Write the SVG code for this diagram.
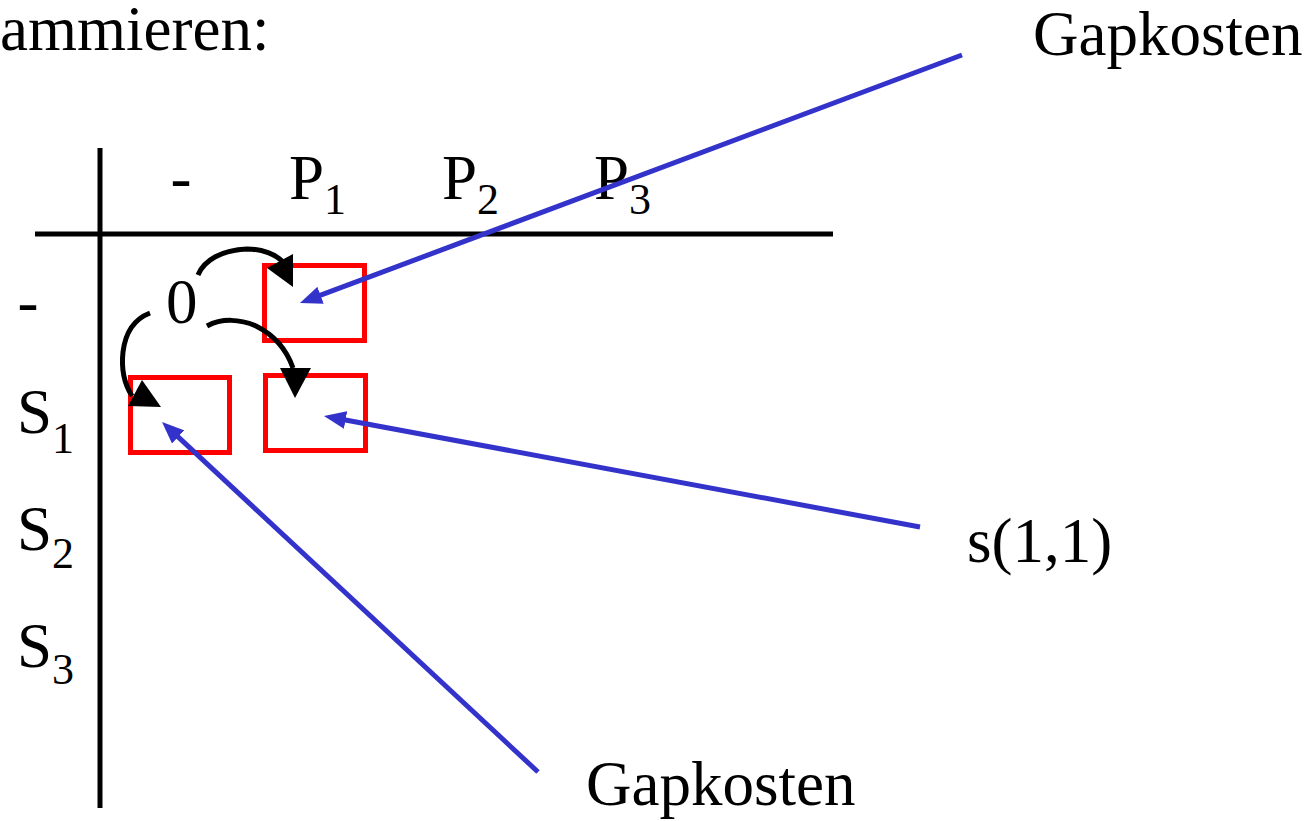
<svg xmlns="http://www.w3.org/2000/svg" width="1315" height="821" viewBox="0 0 1315 821">
<style>
text{font-family:"Liberation Serif","Times New Roman",serif;fill:#000}
.t{font-size:63px}
.sub{font-size:44px}
.axis{stroke:#000;stroke-width:5;fill:none}
.cell{fill:none;stroke:#FF0000;stroke-width:5}
.curve{fill:none;stroke:#000;stroke-width:5}
.head{fill:#000;stroke:none}
.blue{fill:none;stroke:#3333CC;stroke-width:5}
</style>
<defs>
<marker id="bh" markerUnits="userSpaceOnUse" markerWidth="22" markerHeight="18" viewBox="0 0 22 18" refX="7" refY="9" orient="auto">
<path d="M0,0 L22,9 L0,18 z" fill="#3333CC"/>
</marker>
</defs>
<rect width="1315" height="821" fill="#fff"/>
<g id="title"><text class="t" x="0" y="50">ammieren:</text></g>
<g id="axes">
<line class="axis" x1="100" y1="148" x2="100" y2="808"/>
<line class="axis" x1="35" y1="234" x2="833" y2="234"/>
</g>
<g id="col-headers">
<text class="t" x="170.5" y="199">-</text>
<text class="t" x="289" y="199">P<tspan class="sub" y="214">1</tspan></text>
<text class="t" x="442" y="199">P<tspan class="sub" y="214">2</tspan></text>
<text class="t" x="594" y="199">P<tspan class="sub" y="214">3</tspan></text>
</g>
<g id="row-headers">
<text class="t" x="17.5" y="323">-</text>
<text class="t" x="17" y="433">S<tspan class="sub" y="453">1</tspan></text>
<text class="t" x="17" y="550">S<tspan class="sub" y="568">2</tspan></text>
<text class="t" x="17" y="667">S<tspan class="sub" y="684">3</tspan></text>
</g>
<g id="cell-00"><text class="t" x="166" y="323">0</text></g>
<g id="cell-01"><rect class="cell" x="264.5" y="265.5" width="100" height="75"/></g>
<g id="cell-10"><rect class="cell" x="130.5" y="377.5" width="99" height="75"/></g>
<g id="cell-11"><rect class="cell" x="265.5" y="375.5" width="100" height="75"/></g>
<g id="label-gap-top"><text class="t" x="1033" y="55">Gapkosten</text></g>
<g id="label-s11"><text class="t" x="967" y="562">s(1,1)</text></g>
<g id="label-gap-bottom"><text class="t" x="586" y="805">Gapkosten</text></g>
<g id="connectors">
<path class="curve" d="M198,275 C204,260 222,250 247,249 C262,249 276,254 284,263"/>
<polygon class="head" points="267,268 293,254 293,287"/>
<path class="curve" d="M207,326 C222,318 240,319 256,326 C272,334 286,348 293,368"/>
<polygon class="head" points="280,368 311,368 295,398"/>
<path class="curve" d="M150,313 C132,320 125,335 123,352 C121,370 125,385 132,396"/>
<polygon class="head" points="128,406 142,380 161,407"/>
<line class="blue" x1="962" y1="55" x2="314" y2="297.7" marker-end="url(#bh)"/>
<line class="blue" x1="920" y1="527" x2="338.7" y2="418.7" marker-end="url(#bh)"/>
<line class="blue" x1="538" y1="772" x2="173" y2="432.2" marker-end="url(#bh)"/>
</g>
</svg>
